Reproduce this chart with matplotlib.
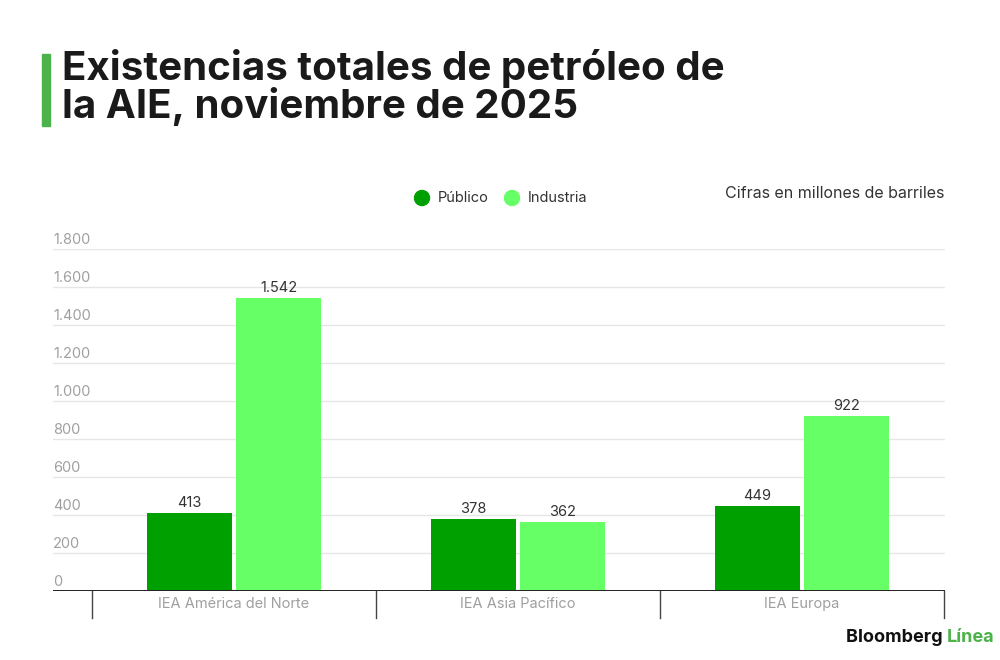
import matplotlib
matplotlib.use("Agg")
import matplotlib.pyplot as plt
from matplotlib.patches import Ellipse, Rectangle
import numpy as np

categories = ["IEA América del Norte", "IEA Asia Pacífico", "IEA Europa"]
publico = [413, 378, 449]
industria = [1542, 362, 922]
series_names = ["Público", "Industria"]
yticks = [0, 200, 400, 600, 800, 1000, 1200, 1400, 1600, 1800]

def fmt(v):
    return f"{v:,}".replace(",", ".")

plt.rcParams['font.family'] = ['Inter', 'DejaVu Sans']

fig = plt.figure(figsize=(10, 6.6), dpi=100)
ax = fig.add_axes([0.053, 1 - 591/660, 0.892, (591 - 249)/660])

c_pub = "#00A000"
c_ind = "#66FF66"
x = np.arange(len(categories))
w = 0.30
off = 0.157
b1 = ax.bar(x - off, publico, w, color=c_pub, zorder=3)
b2 = ax.bar(x + off, industria, w, color=c_ind, zorder=3)

for bars, vals in ((b1, publico), (b2, industria)):
    for r, v in zip(bars, vals):
        ax.annotate(fmt(v), (r.get_x() + r.get_width()/2, v), xytext=(0, 2),
                    textcoords="offset points", ha="center", va="bottom",
                    fontsize=10.5, color="#333333", zorder=4)

ax.set_xlim(-0.637, 2.503)
ax.set_ylim(0, 1800)
for t in yticks:
    ax.axhline(t, color="#e6e6e6", lw=1, zorder=1)
    ax.text(-0.637, t + 9/0.19, fmt(t), ha="left", va="center", fontsize=10.5,
            color="#a0a0a0", zorder=4)
ax.axhline(0, color="#222222", lw=1.4, zorder=5)

for s in ax.spines.values():
    s.set_visible(False)
ax.set_xticks([])
ax.set_yticks([])

# category separators and labels
for b in [-0.5, 0.5, 1.5, 2.5]:
    ax.plot([b, b], [0, -27/0.19], color="#444444", lw=1, clip_on=False, zorder=5)
for i, c in enumerate(categories):
    ax.text(i, -13/0.19, c, ha="center", va="center", fontsize=10.5,
            color="#a0a0a0", clip_on=False)

# title
fig.patches.append(Rectangle((42/1000, 1 - 126/660), 8/1000, 72/660,
                             transform=fig.transFigure, color="#4CB34A"))
fig.text(62/1000, 1 - 68/660, "Existencias totales de petróleo de", fontsize=29,
         fontweight="bold", color="#1a1a1a", va="center", ha="left")
fig.text(62/1000, 1 - 106/660, "la AIE, noviembre de 2025", fontsize=29,
         fontweight="bold", color="#1a1a1a", va="center", ha="left")

# legend
fig.patches.append(Ellipse((422/1000, 1 - 198/660), 15/1000, 15/660,
                   transform=fig.transFigure, color=c_pub))
fig.text(438/1000, 1 - 198/660, series_names[0], fontsize=10.5, color="#333333", va="center")
fig.patches.append(Ellipse((512/1000, 1 - 198/660), 15/1000, 15/660,
                   transform=fig.transFigure, color=c_ind))
fig.text(528/1000, 1 - 198/660, series_names[1], fontsize=10.5, color="#333333", va="center")

fig.text(944/1000, 1 - 193/660, "Cifras en millones de barriles", fontsize=11.5,
         color="#333333", va="center", ha="right")

# footer
t1 = fig.text(846/1000, 1 - 638/660, "Bloomberg ", fontsize=13, fontweight="bold",
              color="#111111", va="center", ha="left")
fig.canvas.draw()
bb = t1.get_window_extent()
fig.text(bb.x1/1000, 1 - 638/660, "Línea", fontsize=13, fontweight="bold",
         color="#4CB34A", va="center", ha="left")

fig.savefig("out.png", dpi=100)
